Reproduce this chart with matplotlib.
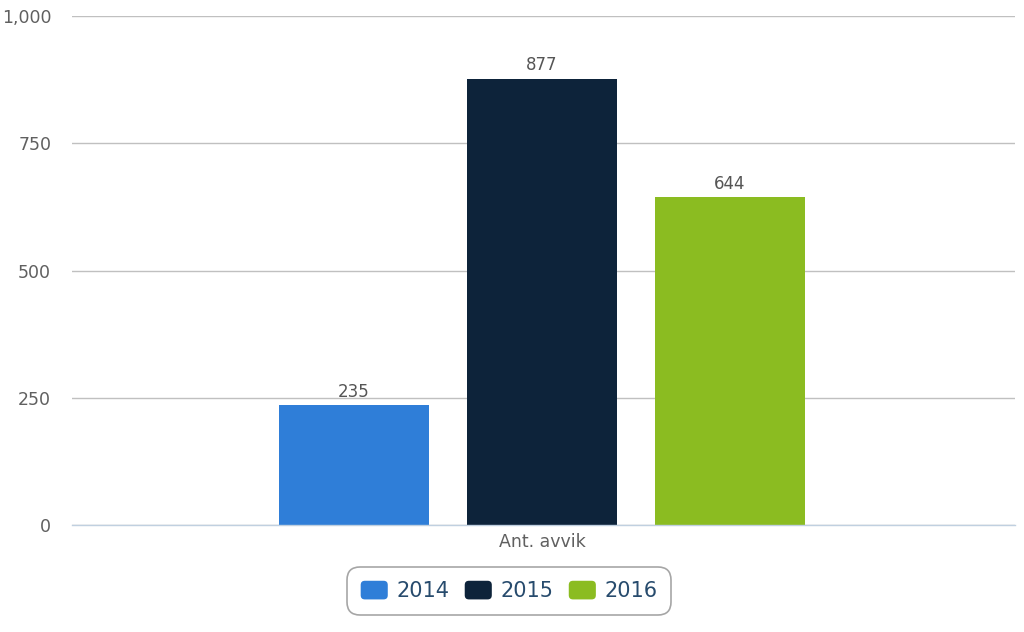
import matplotlib.pyplot as plt
from matplotlib.ticker import FuncFormatter
from matplotlib.patches import FancyBboxPatch, Rectangle
from matplotlib.legend_handler import HandlerPatch

categories = ["Ant. avvik"]
series_names = ["2014", "2015", "2016"]
series_values = [[235], [877], [644]]
colors = ["#2f7ed8", "#0d233a", "#8bbc21"]


class RoundHandler(HandlerPatch):
    # rounded square legend markers
    def create_artists(self, legend, orig_handle, xdescent, ydescent, width, height, fontsize, trans):
        p = FancyBboxPatch((-xdescent + 2, -ydescent + 2), width - 4, height - 4,
                           boxstyle="round,pad=2,rounding_size=3",
                           facecolor=orig_handle.get_facecolor(), edgecolor="none",
                           transform=trans)
        return [p]


fig = plt.figure(figsize=(10.24, 6.32), dpi=100)
ax = fig.add_axes([72 / 1024, 1 - 525 / 632, (1015 - 72) / 1024, (525 - 16) / 632])

bar_w = 150 / 943
step = 188 / 943
handles = []
for i, (name, vals) in enumerate(zip(series_names, series_values)):
    xs = [c + (i - 1) * step for c in range(len(categories))]
    ax.bar(xs, vals, width=bar_w, color=colors[i], label=name, zorder=3)
    handles.append(Rectangle((0, 0), 1, 1, facecolor=colors[i], label=name))
    for x, v in zip(xs, vals):
        ax.text(x, v + 9, str(v), ha="center", va="bottom", fontsize=12, color="#555555", zorder=4)

ax.set_xlim(-470 / 943, len(categories) - 1 + 473 / 943)
ax.set_ylim(0, 1000)
ax.set_yticks([0, 250, 500, 750, 1000])
ax.yaxis.set_major_formatter(FuncFormatter(lambda v, p: f"{int(v):,}"))
ax.set_xticks(range(len(categories)))
ax.set_xticklabels(categories)

ax.grid(axis="y", color="#c0c0c0", linewidth=1, zorder=0)
for s in ["top", "left", "right"]:
    ax.spines[s].set_visible(False)
ax.spines["bottom"].set_color("#c0d0e0")
ax.spines["bottom"].set_linewidth(1)
ax.spines["bottom"].set_zorder(5)
ax.tick_params(axis="y", length=0, labelsize=12.5, labelcolor="#606060", pad=15)
ax.tick_params(axis="x", length=0, labelsize=12.5, labelcolor="#606060", pad=6)

leg = fig.legend(handles=handles, loc="center", bbox_to_anchor=(509 / 1024, 1 - 591 / 632),
                 ncol=3, frameon=True, fontsize=15, handlelength=1.3, handleheight=1.0,
                 columnspacing=0.75, handletextpad=0.4, borderpad=0.45,
                 handler_map={Rectangle: RoundHandler()})
leg.get_frame().set_edgecolor("#909090")
leg.get_frame().set_linewidth(1.2)
leg.get_frame().set_boxstyle("round,pad=0.2,rounding_size=0.6")
for t in leg.get_texts():
    t.set_color("#274b6d")

fig.savefig("out.png", dpi=100)
